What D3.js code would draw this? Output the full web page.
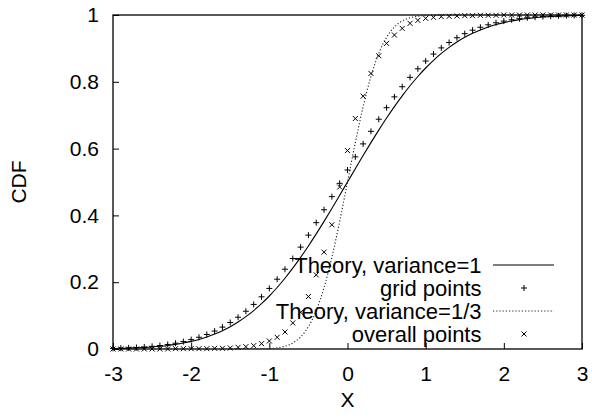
<!DOCTYPE html>
<html>
<head>
<meta charset="utf-8">
<script src="https://cdn.jsdelivr.net/npm/d3@7"></script>
<style>
  html, body { margin: 0; padding: 0; background: #fff; }
  svg text { font-family: "Liberation Sans", Arial, Helvetica, sans-serif; fill: #000; }
</style>
</head>
<body>
<svg id="chart" width="592" height="418"></svg>
<script>
// ---- data ----
const xs = [-3.0,-2.9,-2.8,-2.7,-2.6,-2.5,-2.4,-2.3,-2.2,-2.1,-2.0,-1.9,-1.8,-1.7,-1.6,-1.5,-1.4,-1.3,-1.2,-1.1,-1.0,
  -0.9,-0.8,-0.7,-0.6,-0.5,-0.4,-0.3,-0.2,-0.1,0.0,0.1,0.2,0.3,0.4,0.5,0.6,0.7,0.8,0.9,1.0,
  1.1,1.2,1.3,1.4,1.5,1.6,1.7,1.8,1.9,2.0,2.1,2.2,2.3,2.4,2.5,2.6,2.7,2.8,2.9,3.0];

// Theory, variance=1 (solid)
const theory1 = [0.0013,0.0019,0.0026,0.0035,0.0047,0.0062,0.0082,0.0107,0.0139,0.0179,0.0228,
  0.0287,0.0359,0.0446,0.0548,0.0668,0.0808,0.0968,0.1151,0.1357,0.1587,
  0.1841,0.2119,0.2420,0.2743,0.3085,0.3446,0.3821,0.4207,0.4602,0.5000,
  0.5398,0.5793,0.6179,0.6554,0.6915,0.7257,0.7580,0.7881,0.8159,0.8413,
  0.8643,0.8849,0.9032,0.9192,0.9332,0.9452,0.9554,0.9641,0.9713,0.9772,
  0.9821,0.9861,0.9893,0.9918,0.9938,0.9953,0.9965,0.9974,0.9981,0.9987];

// grid points (+)
const gridPts = [0.0018,0.0025,0.0034,0.0045,0.0060,0.0080,0.0104,0.0136,0.0174,0.0222,0.0281,
  0.0351,0.0436,0.0537,0.0655,0.0793,0.0951,0.1131,0.1335,0.1562,0.1814,
  0.2090,0.2389,0.2709,0.3050,0.3409,0.3783,0.4168,0.4562,0.4960,0.5359,
  0.5753,0.6141,0.6517,0.6879,0.7224,0.7549,0.7852,0.8133,0.8389,0.8621,
  0.8830,0.9015,0.9177,0.9319,0.9441,0.9545,0.9633,0.9706,0.9767,0.9817,
  0.9857,0.9890,0.9916,0.9936,0.9952,0.9964,0.9974,0.9981,0.9986,0.9990];

// Theory, variance=1/3 (dotted)
const xsThird = [-3.0,-1.25,-1.2,-1.15,-1.1,-1.05,-1.0,-0.95,-0.9,-0.85,-0.8,-0.75,-0.7,-0.65,-0.6,-0.55,-0.5,
  -0.45,-0.4,-0.35,-0.3,-0.25,-0.2,-0.15,-0.1,-0.05,0.0,0.05,0.1,0.15,0.2,0.25,0.3,0.35,0.4,0.45,0.5,
  0.55,0.6,0.65,0.7,0.75,0.8,0.85,0.9,0.95,1.0,1.05,1.1,1.15,1.2,1.25,3.0];
const theoryThird = [0.0,0.0001,0.00016,0.00028,0.00048,0.00082,0.00135,0.00219,0.00347,0.00539,0.0082,0.0122,
  0.0179,0.0256,0.0359,0.0495,0.0668,0.0885,0.1151,0.1469,0.1841,0.2266,0.2743,0.3264,0.3821,0.4404,0.5,
  0.5596,0.6179,0.6736,0.7257,0.7734,0.8159,0.8531,0.8849,0.9115,0.9332,0.9505,0.9641,0.9744,0.9821,
  0.9878,0.9918,0.99461,0.99653,0.99781,0.99865,0.99918,0.99952,0.99972,0.99984,0.9999,1.0];

// overall points (x)
const overallPts = [0.000,0.000,0.000,0.000,0.000,0.000,0.000,0.000,0.001,0.001,0.001,
  0.001,0.001,0.002,0.002,0.003,0.005,0.007,0.010,0.016,0.024,
  0.035,0.051,0.078,0.110,0.157,0.222,0.290,0.372,0.485,0.594,
  0.690,0.757,0.825,0.878,0.915,0.940,0.960,0.975,0.984,0.990,
  0.993,0.995,0.996,0.997,0.998,0.998,0.999,0.999,0.999,1.000,
  1.000,1.000,1.000,1.000,1.000,1.000,1.000,1.000,1.000,1.000];

const xTicks = [-3,-2,-1,0,1,2,3];
const yTicks = [0,0.2,0.4,0.6,0.8,1];
const legendLabels = ["Theory, variance=1","grid points","Theory, variance=1/3","overall points"];

// ---- chart ----
const svg = d3.select("#chart");
const L = 113, R = 582, T = 15, B = 349;
const x = d3.scaleLinear().domain([-3,3]).range([L,R]);
const y = d3.scaleLinear().domain([0,1]).range([B,T]);
const FS = 21;

svg.append("defs").append("clipPath").attr("id","clip")
  .append("rect").attr("x",L).attr("y",T-2).attr("width",R-L).attr("height",B-T+2);

// axes (ticks inward, no mirror)
const xAxis = d3.axisBottom(x).tickValues(xTicks).tickSize(-6).tickPadding(12).tickFormat(d => String(d));
const gx = svg.append("g").attr("transform",`translate(0,${B})`).call(xAxis);
gx.select(".domain").remove();
gx.selectAll("line").attr("stroke","#000");
gx.selectAll("text").attr("font-size",FS).attr("font-family","Liberation Sans, Arial, sans-serif")
  .attr("dy","0.95em").attr("y",12);

const yAxis = d3.axisLeft(y).tickValues(yTicks).tickSize(-6).tickPadding(14).tickFormat(d => String(d));
const gy = svg.append("g").attr("transform",`translate(${L},0)`).call(yAxis);
gy.select(".domain").remove();
gy.selectAll("line").attr("stroke","#000");
gy.selectAll("text").attr("font-size",FS).attr("font-family","Liberation Sans, Arial, sans-serif");

// frame
svg.append("rect").attr("x",L).attr("y",T).attr("width",R-L).attr("height",B-T)
  .attr("fill","none").attr("stroke","#000").attr("stroke-width",1.3);

// axis labels
svg.append("text").attr("x",(L+R)/2).attr("y",407).attr("text-anchor","middle")
  .attr("font-size",FS).text("X");
svg.append("text").attr("transform",`translate(26,${(T+B)/2}) rotate(-90)`)
  .attr("text-anchor","middle").attr("font-size",FS).text("CDF");

const plot = svg.append("g").attr("clip-path","url(#clip)");
const line = d3.line().x(d => x(d[0])).y(d => y(d[1])).curve(d3.curveMonotoneX);

plot.append("path").datum(xs.map((v,i)=>[v,theory1[i]]))
  .attr("d",line).attr("fill","none").attr("stroke","#000").attr("stroke-width",1.1);
plot.append("path").datum(xsThird.map((v,i)=>[v,theoryThird[i]]))
  .attr("d",line).attr("fill","none").attr("stroke","#222").attr("stroke-width",1.1)
  .attr("stroke-dasharray","1.2,2");

const plusPath = (cx,cy,s) => `M${cx-s},${cy}H${cx+s}M${cx},${cy-s}V${cy+s}`;
const crossPath = (cx,cy,s) => `M${cx-s},${cy-s}L${cx+s},${cy+s}M${cx-s},${cy+s}L${cx+s},${cy-s}`;

svg.append("g").selectAll("path").data(xs.map((v,i)=>[v,gridPts[i]])).join("path")
  .attr("d",d => plusPath(x(d[0]),y(d[1]),3)).attr("stroke","#000").attr("stroke-width",1).attr("fill","none");
svg.append("g").selectAll("path").data(xs.map((v,i)=>[v,overallPts[i]])).join("path")
  .attr("d",d => crossPath(x(d[0]),y(d[1]),2.5)).attr("stroke","#000").attr("stroke-width",1).attr("fill","none");

// legend
const rowsY = [265,288,311,334];
const lg = svg.append("g");
legendLabels.forEach((t,i) => {
  lg.append("text").attr("x",481.5).attr("y",rowsY[i]).attr("dy","0.36em")
    .attr("text-anchor","end").attr("font-size",FS+1).text(t);
});
lg.append("line").attr("x1",493).attr("x2",554).attr("y1",rowsY[0]).attr("y2",rowsY[0])
  .attr("stroke","#000").attr("stroke-width",1.1);
lg.append("path").attr("d",plusPath(524,rowsY[1],3)).attr("stroke","#000").attr("stroke-width",1);
lg.append("line").attr("x1",493).attr("x2",554).attr("y1",rowsY[2]).attr("y2",rowsY[2])
  .attr("stroke","#222").attr("stroke-width",1.1).attr("stroke-dasharray","1.2,2");
lg.append("path").attr("d",crossPath(524,rowsY[3],2.5)).attr("stroke","#000").attr("stroke-width",1);
</script>
</body>
</html>
